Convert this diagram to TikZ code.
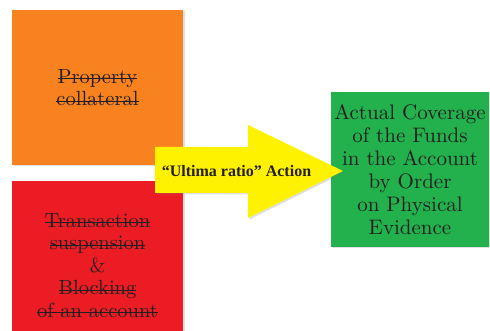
\documentclass[tikz,border=0pt]{standalone}
\usepackage{fontspec}
\newfontfamily\boxfont{lmroman10-regular.otf}[BoldFont=lmroman10-bold.otf]
\newfontfamily\actfont{Liberation Serif}
\usetikzlibrary{positioning,shadows}
\definecolor{collat}{HTML}{F7821F}
\definecolor{blockr}{HTML}{EC1C24}
\definecolor{cover}{HTML}{22B14C}
\definecolor{ultima}{HTML}{FFF200}
\definecolor{ink}{HTML}{231F20}
\newcommand{\strk}[1]{\setbox0\hbox{#1}\rlap{\vrule height\dimexpr0.5ex+0.6pt\relax depth\dimexpr-0.5ex+0.6pt\relax width\wd0}\box0}

\begin{document}
\begin{tikzpicture}[x=1pt, y=1pt,
  shade/.style={drop shadow={shadow xshift=1.5pt, shadow yshift=-1.5pt, opacity=0.25}},
  box/.style={shade, minimum width=171pt, minimum height=155pt, inner sep=0pt, align=center, text=ink, font=\boxfont\fontsize{20.5}{22.5}\selectfont}]
  \useasboundingbox (0,0) rectangle (490,331);
  \clip (0,0) rectangle (490,331);
  \node[box, fill=collat]  (prop) at (97.5,243.5) {\strk{Property}\\\strk{collateral}};
  \node[box, fill=blockr, minimum height=168pt] (block) [below=16pt of prop] {\strk{Transaction}\\\strk{suspension}\\\&\\\strk{Blocking}\\\strk{of an account}};
  \node[box, fill=cover, minimum width=158pt, font=\boxfont\fontsize{21}{23}\selectfont] (fund) at (410,161.5) {Actual Coverage\\of the Funds\\in the Account\\by Order\\on Physical\\Evidence};
  \path[fill=ultima, shade] (155,184) -- (248,184) -- (248,206) -- (343,160) -- (248,113) -- (248,138) -- (155,138) -- cycle;
  \node[text=ink, font=\actfont\bfseries\fontsize{16}{18}\selectfont] (act) at (236.5,160) {“Ultima ratio” Action};
\end{tikzpicture}
\end{document}
